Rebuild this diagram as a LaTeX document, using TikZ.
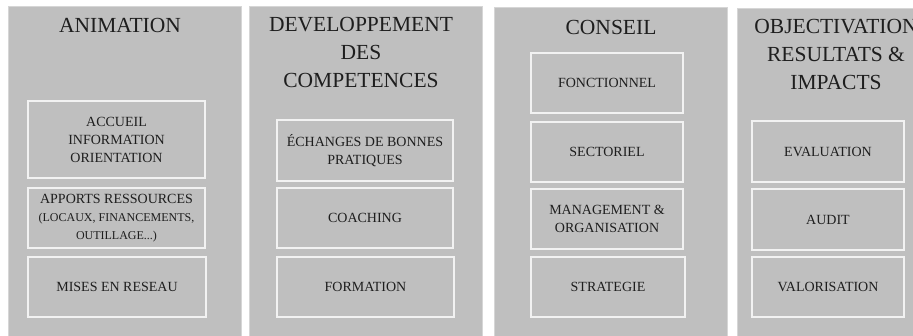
\documentclass[tikz,border=0pt]{standalone}
\usepackage{fontspec}
\setmainfont{Liberation Serif}
\begin{document}
\begin{tikzpicture}[x=1pt,y=-1pt,
  panel/.style={fill=panelgray,draw=panelline,line width=1pt},
  box/.style={draw=boxline,line width=1.2pt,fill=panelgray,align=center,inner sep=0pt,
    text=txt,font=\fontsize{14}{18}\selectfont},
  ttl/.style={align=center,text=txt,inner sep=0pt,font=\fontsize{21.5}{28}\selectfont}]
\definecolor{panelgray}{HTML}{BFBFBF}
\definecolor{panelline}{HTML}{D6D6D6}
\definecolor{boxline}{HTML}{F2F2F2}
\definecolor{txt}{HTML}{1E1E1E}
\useasboundingbox (0,0) rectangle (913,335);
\fill[white] (0,0) rectangle (913,335);
\clip (0,0) rectangle (913,335);
% panels
\draw[panel] (8,6) rectangle (241,340);
\draw[panel] (249,6) rectangle (482,340);
\draw[panel] (494,7) rectangle (727,340);
\draw[panel] (737,8) rectangle (975,340);
% titles
\node[ttl] (t1) at (120,25) {ANIMATION};
\node[ttl] (t2) at (361,52) {DEVELOPPEMENT\\DES\\COMPETENCES};
\node[ttl] (t3) at (611,27) {CONSEIL};
\node[ttl] (t4) at (836,54) {OBJECTIVATION\\RESULTATS \&\\IMPACTS};
% panel 1
\node[box,minimum width=177pt,minimum height=77pt] (a1) at (116.5,139.5) {ACCUEIL\\INFORMATION\\ORIENTATION};
\node[box,minimum width=177pt,minimum height=60pt] (a2) at (116.5,218) {APPORTS RESSOURCES\\{\fontsize{12}{18}\selectfont(LOCAUX, FINANCEMENTS,}\\{\fontsize{12}{18}\selectfont OUTILLAGE...)}};
\node[box,minimum width=178pt,minimum height=60pt] (a3) at (117,287) {MISES EN RESEAU};
% panel 2
\node[box,minimum width=176pt,minimum height=61pt] (b1) at (365,150.5) {ÉCHANGES DE BONNES\\PRATIQUES};
\node[box,minimum width=176pt,minimum height=60pt] (b2) at (365,218) {COACHING};
\node[box,minimum width=177pt,minimum height=60pt] (b3) at (365.5,287) {FORMATION};
% panel 3
\node[box,minimum width=152pt,minimum height=60pt] (c1) at (607,83) {FONCTIONNEL};
\node[box,minimum width=152pt,minimum height=60pt] (c2) at (607,152) {SECTORIEL};
\node[box,minimum width=152pt,minimum height=60pt] (c3) at (607,219) {MANAGEMENT \&\\ORGANISATION};
\node[box,minimum width=154pt,minimum height=60pt] (c4) at (608,287) {STRATEGIE};
% panel 4
\node[box,minimum width=152pt,minimum height=61pt] (d1) at (828,151.5) {EVALUATION};
\node[box,minimum width=152pt,minimum height=61pt] (d2) at (828,219.5) {AUDIT};
\node[box,minimum width=152pt,minimum height=60pt] (d3) at (828,287) {VALORISATION};
\end{tikzpicture}
\end{document}
